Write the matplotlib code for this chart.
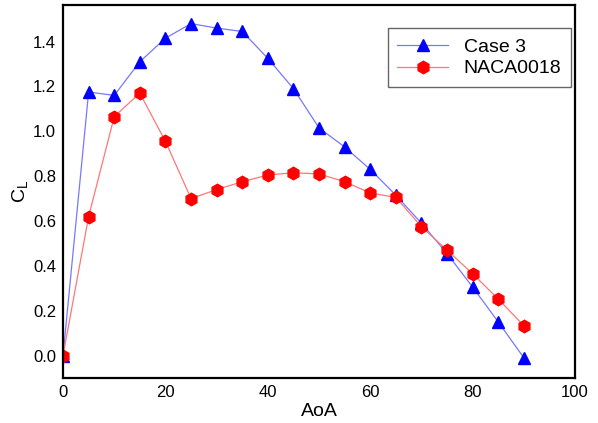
import matplotlib
matplotlib.use("Agg")
import matplotlib.pyplot as plt

plt.rcParams['font.family'] = ['Liberation Sans', 'DejaVu Sans']
plt.rcParams['mathtext.fontset'] = 'custom'
plt.rcParams['mathtext.rm'] = 'Liberation Sans'
plt.rcParams['mathtext.it'] = 'Liberation Sans'

aoa = [0, 5, 10, 15, 20, 25, 30, 35, 40, 45, 50, 55, 60, 65, 70, 75, 80, 85, 90]
case3 = [0.0, 1.175, 1.16, 1.31, 1.415, 1.48, 1.46, 1.445, 1.325, 1.19,
         1.015, 0.93, 0.83, 0.715, 0.59, 0.455, 0.305, 0.15, -0.01]
naca = [0.0, 0.62, 1.065, 1.17, 0.955, 0.70, 0.74, 0.775, 0.805, 0.815,
        0.81, 0.775, 0.725, 0.705, 0.575, 0.47, 0.365, 0.252, 0.133]

fig = plt.figure(figsize=(5.98, 4.23), dpi=100)
ax = fig.add_axes([0.1054, 0.1064, 0.8562, 0.8818])

ax.plot(aoa, case3, color='#7777ff', lw=0.9, marker='^', ms=9,
        mfc='#0000ff', mec='#0000ff', label='Case 3')
ax.plot(aoa, naca, color='#ff7777', lw=0.9, marker='h', ms=9,
        mfc='#ff0000', mec='#ff0000', label='NACA0018')

ax.set_xlim(0, 100)
ax.set_ylim(-0.1, 1.563)
ax.set_xticks([0, 20, 40, 60, 80, 100])
ax.set_yticks([0.0, 0.2, 0.4, 0.6, 0.8, 1.0, 1.2, 1.4])
ax.set_yticklabels(['0.0', '0.2', '0.4', '0.6', '0.8', '1.0', '1.2', '1.4'])
ax.tick_params(length=0, labelsize=12, pad=5)
for s in ax.spines.values():
    s.set_linewidth(1.6)

ax.set_xlabel('AoA', fontsize=14, labelpad=2)
ax.set_ylabel('C$_\\mathregular{L}$', fontsize=14, labelpad=2)

leg = ax.legend(loc='upper right', bbox_to_anchor=(0.992, 0.937), fontsize=14,
                fancybox=False, framealpha=1, edgecolor='#666666',
                handlelength=2.6, borderpad=0.5, labelspacing=0.2,
                borderaxespad=0)
leg.get_frame().set_linewidth(1.0)

fig.savefig('out.png', dpi=100)
